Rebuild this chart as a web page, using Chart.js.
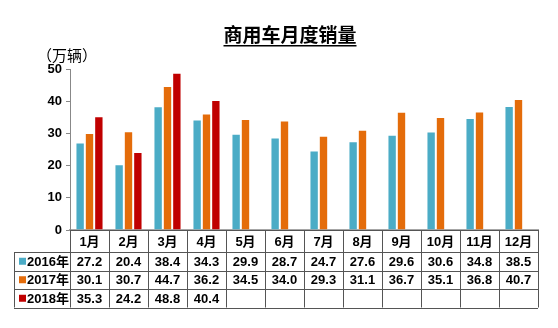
<!DOCTYPE html>
<html>
<head>
<meta charset="utf-8">
<script src="https://cdn.jsdelivr.net/npm/chart.js@4"></script>
<style>
  html, body { margin: 0; padding: 0; background: #fff; }
  #wrap { width: 558px; height: 328px; position: relative; }
</style>
</head>
<body>
<div id="wrap"><canvas id="salesChart"></canvas></div>
<script>
const months = ['1月', '2月', '3月', '4月', '5月', '6月', '7月', '8月', '9月', '10月', '11月', '12月'];
const seriesNames = ['2016年', '2017年', '2018年'];
const sales2016 = [27.2, 20.4, 38.4, 34.3, 29.9, 28.7, 24.7, 27.6, 29.6, 30.6, 34.8, 38.5];
const sales2017 = [30.1, 30.7, 44.7, 36.2, 34.5, 34.0, 29.3, 31.1, 36.7, 35.1, 36.8, 40.7];
const sales2018 = [35.3, 24.2, 48.8, 40.4, null, null, null, null, null, null, null, null];
const yTicks = [0, 10, 20, 30, 40, 50];

const colors = ['#4BACC6', '#E46C0A', '#C00000'];
const cjk = '"Liberation Sans", Arial, "Noto Sans CJK SC", sans-serif';

// title, unit label and the data table under the bars
const tablePlugin = {
    id: 'tablePlugin',
    afterDraw(chart) {
        const c = chart.ctx;
        const x = chart.scales.x;
        const area = chart.chartArea;
        c.save();

        // title
        c.font = 'bold 19px ' + cjk;
        c.fillStyle = '#000';
        c.textAlign = 'center';
        c.textBaseline = 'alphabetic';
        const title = '商用车月度销量';
        c.fillText(title, 290, 42);
        const tw = c.measureText(title).width;
        c.fillRect(290 - tw / 2, 45, tw, 1.5);

        // unit
        c.font = '15px ' + cjk;
        c.textAlign = 'left';
        c.fillText('（万辆）', 37, 61);

        // table
        const colW = (x.right - x.left) / months.length;
        const top = area.bottom;
        const headH = 22;
        const rowH = 18.5;
        const labelLeft = 14;
        const bottom = top + headH + rowH * 3;
        const allData = [sales2016, sales2017, sales2018];

        c.strokeStyle = '#555';
        c.lineWidth = 1;
        c.beginPath();
        // horizontal lines
        c.moveTo(x.left, top + 0.5); c.lineTo(x.right, top + 0.5);
        for (let r = 0; r <= 3; r++) {
            const yy = Math.round(top + headH + rowH * r) + 0.5;
            c.moveTo(labelLeft, yy); c.lineTo(x.right, yy);
        }
        // vertical lines
        c.moveTo(labelLeft + 0.5, top + headH); c.lineTo(labelLeft + 0.5, bottom);
        for (let i = 0; i <= months.length; i++) {
            const xx = Math.round(x.left + colW * i) + 0.5;
            c.moveTo(xx, top); c.lineTo(xx, bottom);
        }
        c.stroke();

        c.fillStyle = '#000';
        c.font = 'bold 13px ' + cjk;
        c.textAlign = 'center';
        c.textBaseline = 'middle';
        months.forEach((m, i) => {
            const cx = x.getPixelForValue(i);
            c.fillText(m, cx, top + headH / 2 + 1);
            allData.forEach((arr, r) => {
                const v = arr[i];
                if (v !== null) {
                    c.fillText(v.toFixed(1), cx, top + headH + rowH * r + rowH / 2 + 1);
                }
            });
        });

        // row labels with colour keys
        c.textAlign = 'left';
        seriesNames.forEach((name, r) => {
            const cy = top + headH + rowH * r + rowH / 2;
            c.fillStyle = colors[r];
            c.fillRect(19, cy - 3.5, 7, 7);
            c.fillStyle = '#000';
            c.fillText(name, 27, cy + 1);
        });
        c.restore();
    }
};

const ctx = document.getElementById('salesChart').getContext('2d');
const salesChart = new Chart(ctx, {
    type: 'bar',
    data: {
        labels: months,
        datasets: [sales2016, sales2017, sales2018].map((d, i) => ({
            label: seriesNames[i],
            data: d,
            backgroundColor: colors[i],
            borderColor: 'rgba(255,255,255,0.35)',
            borderWidth: 1,
            barPercentage: 1.0,
            categoryPercentage: 0.72
        }))
    },
    options: {
        responsive: true,
        maintainAspectRatio: false,
        animation: false,
        layout: {
            padding: { top: 69, right: 20, bottom: 98, left: 0 }
        },
        scales: {
            x: {
                ticks: { display: false },
                grid: { display: false, drawTicks: false },
                border: { display: true, color: '#a6a6a6', width: 1.5 },
                afterFit: s => { s.height = 0; }
            },
            y: {
                min: 0,
                max: 50,
                afterBuildTicks: s => { s.ticks = yTicks.map(v => ({ value: v })); },
                ticks: {
                    color: '#000',
                    padding: 4,
                    font: { size: 13, weight: 'bold', family: cjk }
                },
                grid: {
                    display: true,
                    drawOnChartArea: false,
                    drawTicks: true,
                    tickLength: 4,
                    color: '#888'
                },
                border: { display: true, color: '#888', width: 1 },
                afterFit: s => { s.width = 70; }
            }
        },
        plugins: {
            legend: { display: false },
            tooltip: { enabled: false }
        }
    },
    plugins: [tablePlugin]
});
</script>
</body>
</html>
